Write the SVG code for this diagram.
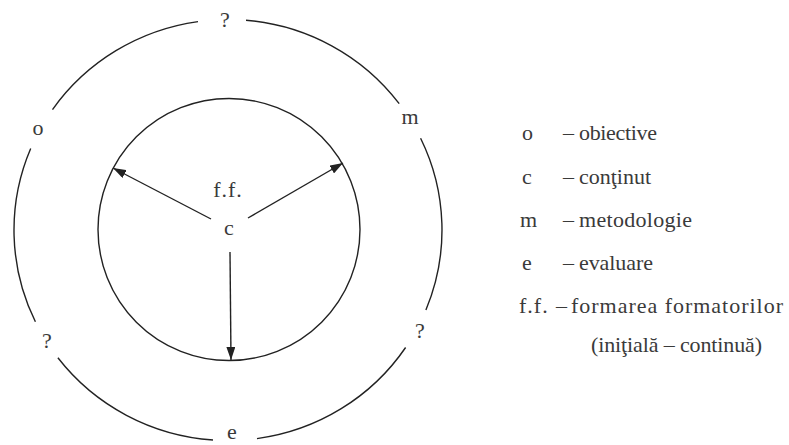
<svg xmlns="http://www.w3.org/2000/svg" width="789" height="445" viewBox="0 0 789 445">
<style>
.t{font-family:"Liberation Serif","Times New Roman",serif;font-size:22px;fill:#3a3a3a}
.c{text-anchor:middle}
.ln{fill:none;stroke:#222;stroke-width:1.4}
</style>
<defs>
<marker id="ah" viewBox="0 0 13 9" refX="13" refY="4.5" markerWidth="13" markerHeight="9" markerUnits="userSpaceOnUse" orient="auto">
<path d="M0,0 L13,4.5 L0,9 Z" fill="#222"/>
</marker>
</defs>
<rect width="789" height="445" fill="#fff"/>
<g id="outer">
<path class="ln" d="M246,20.2 A214,210.5 0 0 1 399.2,103.7"/>
<path class="ln" d="M420.6,138.2 A214,210.5 0 0 1 425.9,310"/>
<path class="ln" d="M405.6,347.5 A214,210.5 0 0 1 257,438.6"/>
<path class="ln" d="M213,440 A214,210.5 0 0 1 57.9,357.8"/>
<path class="ln" d="M35.4,321.8 A214,210.5 0 0 1 30.7,148.5"/>
<path class="ln" d="M52.5,109.6 A214,210.5 0 0 1 198,21.6"/>
<text class="t c" x="225" y="27">?</text>
<text class="t c" x="38" y="135">o</text>
<text class="t c" x="410" y="124">m</text>
<text class="t c" x="47" y="348">?</text>
<text class="t c" x="420" y="338">?</text>
<text class="t c" x="232" y="439">e</text>
</g>
<g id="inner">
<circle class="ln" cx="229" cy="229.5" r="131"/>
<text class="t c" x="228" y="197" letter-spacing="1">f.f.</text>
<text class="t c" x="229" y="235">c</text>
</g>
<g id="connectors">
<line class="ln" x1="211" y1="219" x2="113" y2="168" marker-end="url(#ah)"/>
<line class="ln" x1="248" y1="218" x2="343" y2="163" marker-end="url(#ah)"/>
<line class="ln" x1="230" y1="252" x2="231" y2="360" marker-end="url(#ah)"/>
</g>
<g id="legend">
<text class="t" x="522" y="140">o</text>
<text class="t" x="563" y="140">–</text>
<text class="t" x="579" y="140" textLength="78">obiective</text>
<text class="t" x="522" y="184">c</text>
<text class="t" x="563" y="184">–</text>
<text class="t" x="579" y="184" textLength="72">conţinut</text>
<text class="t" x="520" y="227">m</text>
<text class="t" x="563" y="227">–</text>
<text class="t" x="579" y="227" textLength="113">metodologie</text>
<text class="t" x="522" y="270">e</text>
<text class="t" x="563" y="270">–</text>
<text class="t" x="579" y="270" textLength="74">evaluare</text>
<text class="t" x="519" y="313" letter-spacing="1">f.f.</text>
<text class="t" x="556" y="313">–</text>
<text class="t" x="571" y="313" textLength="212">formarea formatorilor</text>
<text class="t" x="591" y="352" textLength="171">(iniţială – continuă)</text>
</g>
</svg>
